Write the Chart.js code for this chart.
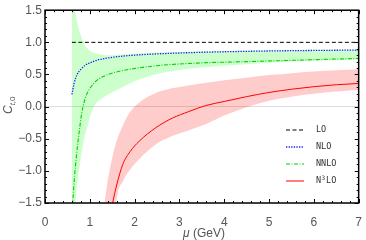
<!DOCTYPE html>
<html>
<head>
<meta charset="utf-8">
<script src="https://cdn.jsdelivr.net/npm/chart.js@4"></script>
<style>
  html, body { margin: 0; padding: 0; background: #fff; }
</style>
</head>
<body>
<canvas id="myChart" width="366" height="240"></canvas>
<script>
// valeurs (mu en GeV)
var muLO = [0.6, 7];
var cLO = [1, 1];

var muNLO = [0.6, 0.65, 0.71, 0.8, 0.89, 1.0, 1.07, 1.2, 1.44, 1.8, 2.5, 3.5, 4.5, 5.5, 7];
var cNLO = [0.19, 0.36, 0.49, 0.58, 0.64, 0.68, 0.70, 0.73, 0.76, 0.79, 0.82, 0.845, 0.86, 0.87, 0.88];

var muNNLO = [0.6, 0.62, 0.66, 0.7, 0.74, 0.78, 0.82, 0.87, 0.93, 1.0, 1.1, 1.2, 1.45, 1.81, 2.55, 3.5, 4.5, 5.5, 7];
var cNNLO = [-1.8, -1.5, -1.08, -0.78, -0.52, -0.3, -0.1, 0.06, 0.19, 0.28, 0.37, 0.43, 0.51, 0.57, 0.64, 0.68, 0.70, 0.72, 0.75];

var muN3LO = [1.48, 1.51, 1.6, 1.735, 1.9, 2.1, 2.47, 2.84, 3.21, 3.58, 4, 4.5, 5, 5.5, 6, 6.5, 7];
var cN3LO = [-1.62, -1.5, -1.22, -0.9, -0.7, -0.54, -0.33, -0.18, -0.077, 0.015, 0.08, 0.155, 0.22, 0.27, 0.31, 0.34, 0.36];

// bandes d'incertitude
var muBandNNLO = [0.6, 0.65, 0.68, 0.72, 0.78, 0.84, 0.89, 0.95, 1.0, 1.07, 1.15, 1.25, 1.44, 1.8, 2.4, 3, 3.5, 4.5, 5.5, 7];
var hiNNLO = [2.5, 1.55, 1.45, 1.3, 1.15, 1.03, 0.95, 0.9, 0.87, 0.845, 0.825, 0.81, 0.80, 0.815, 0.84, 0.85, 0.86, 0.87, 0.88, 0.89];
var loNNLO = [-4, -1.9, -1.5, -1.2, -0.9, -0.62, -0.45, -0.3, -0.17, -0.03, 0.06, 0.12, 0.2, 0.33, 0.49, 0.57, 0.61, 0.66, 0.70, 0.73];

var muBandN3LO = [1.25, 1.33, 1.4, 1.5, 1.59, 1.75, 1.88, 2.1, 2.47, 2.8, 3.2, 3.6, 4, 4.5, 5, 5.5, 6, 6.5, 7];
var hiN3LO = [-2, -1.5, -1.15, -0.8, -0.55, -0.28, -0.1, 0.06, 0.21, 0.28, 0.33, 0.37, 0.41, 0.45, 0.49, 0.52, 0.545, 0.565, 0.58];
var loN3LO = [-4, -3.5, -3, -2.4, -1.5, -1.15, -1.0, -0.82, -0.59, -0.47, -0.37, -0.27, -0.14, -0.01, 0.09, 0.155, 0.2, 0.235, 0.26];

var xTicks = [0, 1, 2, 3, 4, 5, 6, 7];
var yTicks = [-1.5, -1.0, -0.5, 0.0, 0.5, 1.0, 1.5];

function pts(xs, ys) {
    return xs.map(function (x, i) { return { x: x, y: ys[i] }; });
}

var frame = {
    id: "frame",
    afterDraw: function (chart) {
        var c = chart.ctx, a = chart.chartArea;
        var xs = chart.scales.x, ys = chart.scales.y;
        c.save();
        c.strokeStyle = "#000";
        c.lineWidth = 1;
        c.beginPath();
        for (var i = 0; i <= 35; i++) {
            var px = Math.round(xs.getPixelForValue(i * 0.2)) + 0.5;
            var len = (i % 5 === 0) ? 4 : 2;
            c.moveTo(px, a.bottom); c.lineTo(px, a.bottom - len);
            c.moveTo(px, a.top); c.lineTo(px, a.top + len);
        }
        for (var j = -15; j <= 15; j++) {
            var py = Math.round(ys.getPixelForValue(j / 10)) + 0.5;
            var l2 = (j % 5 === 0) ? 4 : 2;
            c.moveTo(a.left, py); c.lineTo(a.left + l2, py);
            c.moveTo(a.right, py); c.lineTo(a.right - l2, py);
        }
        c.stroke();
        c.lineWidth = 1.5;
        c.strokeRect(a.left, a.top, a.right - a.left, a.bottom - a.top);

        // legende
        var rowY = 130, lx0 = 286, lx1 = 304, tx = 316;
        c.font = "8.5px 'DejaVu Sans Mono'";
        c.textBaseline = "middle";
        chart.data.datasets.forEach(function (ds) {
            if (!ds.legendText) return;
            c.beginPath();
            c.strokeStyle = ds.borderColor;
            c.lineWidth = ds.borderWidth;
            c.setLineDash(ds.borderDash || []);
            c.moveTo(lx0, rowY); c.lineTo(lx1, rowY);
            c.stroke();
            c.setLineDash([]);
            c.fillStyle = "#333";
            if (ds.legendText === "N3LO") {
                c.fillText("N", tx, rowY);
                var w = c.measureText("N").width;
                c.font = "6px 'DejaVu Sans Mono'";
                c.fillText("3", tx + w + 0.5, rowY - 3);
                c.font = "8.5px 'DejaVu Sans Mono'";
                c.fillText("LO", tx + w + 5, rowY);
            } else {
                c.fillText(ds.legendText, tx, rowY);
            }
            rowY += 17;
        });

        // titres des axes
        c.fillStyle = "#555";
        c.textBaseline = "alphabetic";
        var t1 = "\u03bc", t2 = " (GeV)";
        c.font = "12px 'Liberation Sans'";
        var w2 = c.measureText(t2).width;
        c.font = "italic 12px 'Liberation Sans'";
        var w1 = c.measureText(t1).width;
        var x0 = 204 - (w1 + w2) / 2;
        c.fillText(t1, x0, 237);
        c.font = "12px 'Liberation Sans'";
        c.fillText(t2, x0 + w1, 237);

        c.translate(12, 105);
        c.rotate(-Math.PI / 2);
        c.font = "italic 12px 'Liberation Sans'";
        var wc = c.measureText("C").width;
        c.fillText("C", -9, 0);
        c.font = "italic 8px 'Liberation Sans'";
        c.fillText("t", -9 + wc, 3);
        var wt = c.measureText("t,").width;
        c.fillText(",", -9 + wc + c.measureText("t").width, 3);
        c.font = "8px 'Liberation Sans'";
        c.fillText("0", -9 + wc + wt, 3);
        c.restore();
    }
};

var ctx = document.getElementById("myChart").getContext("2d");
var myChart = new Chart(ctx, {
    type: "line",
    data: {
        datasets: [
            { legendText: "LO", data: pts(muLO, cLO), borderColor: "#000", borderWidth: 1, borderDash: [4, 2.5] },
            { legendText: "NLO", data: pts(muNLO, cNLO), borderColor: "#1a1aff", borderWidth: 1.3, borderDash: [1.3, 1.3] },
            { legendText: "NNLO", data: pts(muNNLO, cNNLO), borderColor: "#00d000", borderWidth: 1.1, borderDash: [4, 1.5, 1, 1.5] },
            { legendText: "N3LO", data: pts(muN3LO, cN3LO), borderColor: "#ff0000", borderWidth: 1 },
            { data: pts(muBandNNLO, hiNNLO), borderWidth: 0, borderColor: "transparent", backgroundColor: "rgba(0,255,0,0.2)", fill: "+1" },
            { data: pts(muBandNNLO, loNNLO), borderWidth: 0, borderColor: "transparent", fill: false },
            { data: pts(muBandN3LO, hiN3LO), borderWidth: 0, borderColor: "transparent", backgroundColor: "rgba(255,0,0,0.2)", fill: "+1" },
            { data: pts(muBandN3LO, loN3LO), borderWidth: 0, borderColor: "transparent", fill: false }
        ]
    },
    options: {
        responsive: false,
        animation: false,
        layout: { padding: { top: 7, right: 4, left: 0, bottom: 0 } },
        elements: { point: { radius: 0 }, line: { cubicInterpolationMode: "monotone" } },
        plugins: { legend: { display: false }, tooltip: { enabled: false } },
        scales: {
            x: {
                type: "linear", min: 0, max: 7,
                afterFit: function (s) { s.height = 37; },
                afterBuildTicks: function (s) { s.ticks = xTicks.map(function (v) { return { value: v }; }); },
                grid: { display: false },
                border: { display: false },
                ticks: { color: "#555", padding: 4, font: { family: "Liberation Sans", size: 12 } }
            },
            y: {
                min: -1.5, max: 1.5,
                afterFit: function (s) { s.width = 45; },
                afterBuildTicks: function (s) { s.ticks = yTicks.map(function (v) { return { value: v }; }); },
                grid: {
                    drawTicks: false,
                    color: function (c) { return c.tick && c.tick.value === 0 ? "#dddddd" : "transparent"; }
                },
                border: { display: false },
                ticks: {
                    color: "#555", padding: 3, font: { family: "Liberation Sans", size: 12 },
                    callback: function (v) { return v.toFixed(1).replace("-", "\u2212"); }
                }
            }
        }
    },
    plugins: [frame]
});
</script>
</body>
</html>
